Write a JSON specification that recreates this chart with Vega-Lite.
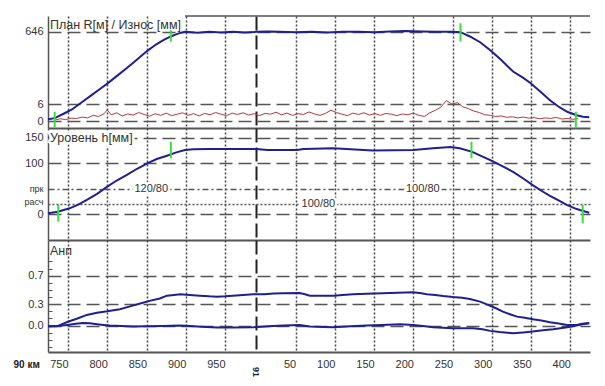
{
  "$schema": "https://vega.github.io/schema/vega-lite/v6.json",
  "padding": {"left": 13, "top": 13, "right": 10, "bottom": 5},
  "spacing": 0,
  "bounds": "flush",
  "background": "white",
  "config": {
    "view": {"stroke": null},
    "axis": {"labelFont": "Liberation Sans", "labelFontSize": 11, "labelColor": "#333", "titleFont": "Liberation Sans", "tickCount": 40},
    "text": {"font": "Liberation Sans"}
  },
  "datasets": {
    "plan": [
      {"p": 724.5, "k": 0.03}, {"p": 733, "k": 0.05}, {"p": 745, "k": 0.13}, {"p": 755, "k": 0.2}, {"p": 768, "k": 0.33},
      {"p": 780, "k": 0.45}, {"p": 792, "k": 0.57}, {"p": 800, "k": 0.65}, {"p": 812, "k": 0.78}, {"p": 825, "k": 0.92},
      {"p": 838, "k": 1.07}, {"p": 851, "k": 1.22}, {"p": 862, "k": 1.33}, {"p": 872, "k": 1.41}, {"p": 881, "k": 1.47},
      {"p": 890, "k": 1.52}, {"p": 899, "k": 1.55}, {"p": 915, "k": 1.535}, {"p": 930, "k": 1.55}, {"p": 945, "k": 1.54},
      {"p": 960, "k": 1.55}, {"p": 975, "k": 1.54}, {"p": 990, "k": 1.55}, {"p": 1005, "k": 1.555}, {"p": 1020, "k": 1.55},
      {"p": 1040, "k": 1.545}, {"p": 1060, "k": 1.55}, {"p": 1080, "k": 1.54}, {"p": 1100, "k": 1.55}, {"p": 1120, "k": 1.55},
      {"p": 1140, "k": 1.545}, {"p": 1160, "k": 1.555}, {"p": 1180, "k": 1.565}, {"p": 1200, "k": 1.555}, {"p": 1220, "k": 1.55},
      {"p": 1240, "k": 1.55}, {"p": 1250, "k": 1.545}, {"p": 1262, "k": 1.47}, {"p": 1275, "k": 1.37}, {"p": 1288, "k": 1.23},
      {"p": 1302, "k": 1.06}, {"p": 1317, "k": 0.86}, {"p": 1330, "k": 0.75}, {"p": 1339, "k": 0.66}, {"p": 1352, "k": 0.51},
      {"p": 1364, "k": 0.36}, {"p": 1376, "k": 0.24}, {"p": 1386, "k": 0.16}, {"p": 1398, "k": 0.1}, {"p": 1406, "k": 0.075},
      {"p": 1414, "k": 0.065}
    ],
    "wear": [
      {"p": 733, "mm": 0.3}, {"p": 740, "mm": 0.8}, {"p": 747, "mm": 0.5}, {"p": 754, "mm": 1.0}, {"p": 761, "mm": 0.9},
      {"p": 768, "mm": 1.4}, {"p": 775, "mm": 1.1}, {"p": 782, "mm": 2.0}, {"p": 789, "mm": 1.6}, {"p": 796, "mm": 2.6},
      {"p": 800, "mm": 3.9}, {"p": 805, "mm": 2.2}, {"p": 812, "mm": 2.9}, {"p": 819, "mm": 1.8}, {"p": 826, "mm": 2.5},
      {"p": 833, "mm": 2.1}, {"p": 840, "mm": 3.0}, {"p": 847, "mm": 2.3}, {"p": 854, "mm": 1.7}, {"p": 861, "mm": 2.6},
      {"p": 868, "mm": 2.0}, {"p": 875, "mm": 2.8}, {"p": 882, "mm": 1.9}, {"p": 889, "mm": 2.4}, {"p": 896, "mm": 2.9},
      {"p": 903, "mm": 2.0}, {"p": 910, "mm": 2.6}, {"p": 917, "mm": 1.8}, {"p": 924, "mm": 2.7}, {"p": 931, "mm": 2.2},
      {"p": 938, "mm": 3.0}, {"p": 945, "mm": 2.4}, {"p": 952, "mm": 1.9}, {"p": 959, "mm": 2.8}, {"p": 966, "mm": 2.3},
      {"p": 973, "mm": 2.9}, {"p": 980, "mm": 2.1}, {"p": 987, "mm": 2.6}, {"p": 994, "mm": 1.9}, {"p": 1001, "mm": 2.7},
      {"p": 1008, "mm": 2.4}, {"p": 1015, "mm": 3.1}, {"p": 1022, "mm": 2.2}, {"p": 1029, "mm": 2.8}, {"p": 1036, "mm": 2.0},
      {"p": 1043, "mm": 2.6}, {"p": 1050, "mm": 2.3}, {"p": 1057, "mm": 3.2}, {"p": 1064, "mm": 2.5}, {"p": 1071, "mm": 2.0},
      {"p": 1078, "mm": 2.7}, {"p": 1085, "mm": 3.8}, {"p": 1092, "mm": 3.0}, {"p": 1099, "mm": 2.4}, {"p": 1106, "mm": 1.9},
      {"p": 1113, "mm": 2.8}, {"p": 1120, "mm": 2.3}, {"p": 1127, "mm": 2.9}, {"p": 1134, "mm": 2.1}, {"p": 1141, "mm": 2.6},
      {"p": 1148, "mm": 2.0}, {"p": 1155, "mm": 2.7}, {"p": 1162, "mm": 2.4}, {"p": 1169, "mm": 1.9}, {"p": 1176, "mm": 2.5},
      {"p": 1183, "mm": 2.2}, {"p": 1190, "mm": 2.8}, {"p": 1197, "mm": 2.0}, {"p": 1204, "mm": 1.6}, {"p": 1211, "mm": 2.9},
      {"p": 1218, "mm": 3.8}, {"p": 1225, "mm": 4.9}, {"p": 1232, "mm": 7.2}, {"p": 1239, "mm": 6.0}, {"p": 1246, "mm": 6.5},
      {"p": 1253, "mm": 5.0}, {"p": 1260, "mm": 4.4}, {"p": 1267, "mm": 3.5}, {"p": 1274, "mm": 3.0}, {"p": 1281, "mm": 2.2},
      {"p": 1288, "mm": 2.0}, {"p": 1295, "mm": 1.6}, {"p": 1302, "mm": 1.8}, {"p": 1309, "mm": 1.3}, {"p": 1316, "mm": 1.5},
      {"p": 1323, "mm": 1.1}, {"p": 1330, "mm": 1.4}, {"p": 1337, "mm": 1.0}, {"p": 1344, "mm": 1.2}, {"p": 1351, "mm": 0.8},
      {"p": 1358, "mm": 1.1}, {"p": 1365, "mm": 0.9}, {"p": 1372, "mm": 1.3}, {"p": 1379, "mm": 0.7}, {"p": 1386, "mm": 0.9},
      {"p": 1393, "mm": 0.6}, {"p": 1400, "mm": 0.8}
    ],
    "level": [
      {"p": 724.5, "h": 2}, {"p": 737, "h": 5}, {"p": 752, "h": 11.7}, {"p": 763, "h": 19}, {"p": 774, "h": 28},
      {"p": 787, "h": 40}, {"p": 800, "h": 54}, {"p": 812, "h": 66}, {"p": 825, "h": 77}, {"p": 838, "h": 89},
      {"p": 851, "h": 99.6}, {"p": 863, "h": 108}, {"p": 876, "h": 114.5}, {"p": 888, "h": 121}, {"p": 899, "h": 125.6},
      {"p": 910, "h": 127}, {"p": 930, "h": 127.5}, {"p": 960, "h": 127.5}, {"p": 990, "h": 127.5}, {"p": 1004, "h": 125.6},
      {"p": 1042, "h": 125.6}, {"p": 1050, "h": 127.5}, {"p": 1088, "h": 129}, {"p": 1138, "h": 124.5}, {"p": 1190, "h": 125.6},
      {"p": 1215, "h": 129}, {"p": 1237, "h": 131.4}, {"p": 1249, "h": 129}, {"p": 1265, "h": 122}, {"p": 1276, "h": 114},
      {"p": 1288, "h": 106}, {"p": 1302, "h": 95}, {"p": 1317, "h": 83}, {"p": 1330, "h": 70}, {"p": 1342, "h": 57},
      {"p": 1353, "h": 46}, {"p": 1364, "h": 36}, {"p": 1375, "h": 27}, {"p": 1386, "h": 18}, {"p": 1395, "h": 12},
      {"p": 1402, "h": 8.4}, {"p": 1414, "h": 3}
    ],
    "anp": [
      {"s": "u", "p": 724.5, "a": -0.01}, {"s": "u", "p": 736, "a": -0.01}, {"s": "u", "p": 749, "a": 0.05}, {"s": "u", "p": 762, "a": 0.1},
      {"s": "u", "p": 774, "a": 0.15}, {"s": "u", "p": 787, "a": 0.18}, {"s": "u", "p": 800, "a": 0.2}, {"s": "u", "p": 816, "a": 0.23},
      {"s": "u", "p": 829, "a": 0.27}, {"s": "u", "p": 842, "a": 0.31}, {"s": "u", "p": 855, "a": 0.35}, {"s": "u", "p": 867, "a": 0.38},
      {"s": "u", "p": 876, "a": 0.42}, {"s": "u", "p": 885, "a": 0.43}, {"s": "u", "p": 893, "a": 0.44}, {"s": "u", "p": 905, "a": 0.43},
      {"s": "u", "p": 918, "a": 0.42}, {"s": "u", "p": 930, "a": 0.41}, {"s": "u", "p": 940, "a": 0.405}, {"s": "u", "p": 950, "a": 0.41},
      {"s": "u", "p": 960, "a": 0.42}, {"s": "u", "p": 973, "a": 0.43}, {"s": "u", "p": 986, "a": 0.44}, {"s": "u", "p": 1000, "a": 0.44},
      {"s": "u", "p": 1012, "a": 0.45}, {"s": "u", "p": 1024, "a": 0.453}, {"s": "u", "p": 1045, "a": 0.456}, {"s": "u", "p": 1052, "a": 0.44},
      {"s": "u", "p": 1058, "a": 0.42}, {"s": "u", "p": 1070, "a": 0.42}, {"s": "u", "p": 1088, "a": 0.42}, {"s": "u", "p": 1100, "a": 0.43},
      {"s": "u", "p": 1113, "a": 0.44}, {"s": "u", "p": 1130, "a": 0.445}, {"s": "u", "p": 1151, "a": 0.453}, {"s": "u", "p": 1170, "a": 0.46},
      {"s": "u", "p": 1190, "a": 0.467}, {"s": "u", "p": 1200, "a": 0.455}, {"s": "u", "p": 1207, "a": 0.44}, {"s": "u", "p": 1218, "a": 0.43},
      {"s": "u", "p": 1228, "a": 0.415}, {"s": "u", "p": 1240, "a": 0.4}, {"s": "u", "p": 1252, "a": 0.39}, {"s": "u", "p": 1262, "a": 0.373},
      {"s": "u", "p": 1275, "a": 0.336}, {"s": "u", "p": 1288, "a": 0.276}, {"s": "u", "p": 1296, "a": 0.24}, {"s": "u", "p": 1304, "a": 0.196},
      {"s": "u", "p": 1313, "a": 0.16}, {"s": "u", "p": 1322, "a": 0.126}, {"s": "u", "p": 1332, "a": 0.11}, {"s": "u", "p": 1342, "a": 0.09},
      {"s": "u", "p": 1353, "a": 0.07}, {"s": "u", "p": 1364, "a": 0.048}, {"s": "u", "p": 1375, "a": 0.03}, {"s": "u", "p": 1386, "a": 0.01},
      {"s": "u", "p": 1398, "a": 0.01}, {"s": "u", "p": 1405, "a": 0.025}, {"s": "u", "p": 1414, "a": 0.035},
      {"s": "l", "p": 724.5, "a": -0.01}, {"s": "l", "p": 737, "a": -0.005}, {"s": "l", "p": 749, "a": 0.01}, {"s": "l", "p": 760, "a": 0.025},
      {"s": "l", "p": 769, "a": 0.035}, {"s": "l", "p": 778, "a": 0.033}, {"s": "l", "p": 787, "a": 0.02}, {"s": "l", "p": 795, "a": 0.01},
      {"s": "l", "p": 803, "a": 0.0}, {"s": "l", "p": 818, "a": -0.005}, {"s": "l", "p": 833, "a": -0.014}, {"s": "l", "p": 850, "a": -0.01},
      {"s": "l", "p": 870, "a": -0.005}, {"s": "l", "p": 893, "a": 0.0}, {"s": "l", "p": 905, "a": -0.005}, {"s": "l", "p": 920, "a": -0.015},
      {"s": "l", "p": 940, "a": -0.028}, {"s": "l", "p": 960, "a": -0.028}, {"s": "l", "p": 986, "a": -0.022}, {"s": "l", "p": 1005, "a": -0.01},
      {"s": "l", "p": 1024, "a": 0.0}, {"s": "l", "p": 1045, "a": 0.01}, {"s": "l", "p": 1058, "a": -0.014}, {"s": "l", "p": 1075, "a": -0.02},
      {"s": "l", "p": 1088, "a": -0.022}, {"s": "l", "p": 1110, "a": -0.01}, {"s": "l", "p": 1131, "a": 0.0}, {"s": "l", "p": 1150, "a": 0.01},
      {"s": "l", "p": 1173, "a": 0.02}, {"s": "l", "p": 1190, "a": 0.01}, {"s": "l", "p": 1205, "a": -0.01}, {"s": "l", "p": 1215, "a": -0.022},
      {"s": "l", "p": 1240, "a": -0.036}, {"s": "l", "p": 1266, "a": -0.036}, {"s": "l", "p": 1278, "a": -0.05}, {"s": "l", "p": 1288, "a": -0.074},
      {"s": "l", "p": 1300, "a": -0.09}, {"s": "l", "p": 1317, "a": -0.106}, {"s": "l", "p": 1330, "a": -0.095}, {"s": "l", "p": 1342, "a": -0.084},
      {"s": "l", "p": 1355, "a": -0.066}, {"s": "l", "p": 1368, "a": -0.05}, {"s": "l", "p": 1386, "a": -0.022}, {"s": "l", "p": 1398, "a": 0.0},
      {"s": "l", "p": 1405, "a": 0.02}, {"s": "l", "p": 1414, "a": 0.034}
    ],
    "g1": [
      {"p": 733, "lo": -0.12, "hi": 0.16}, {"p": 881, "lo": 1.38, "hi": 1.58},
      {"p": 1250, "lo": 1.38, "hi": 1.7}, {"p": 1397, "lo": -0.127, "hi": 0.16}
    ],
    "g2": [
      {"p": 737.6, "lo": -14.5, "hi": 18.2}, {"p": 881, "lo": 109.4, "hi": 141.8},
      {"p": 1264, "lo": 109.4, "hi": 141.8}, {"p": 1405.7, "lo": -17.6, "hi": 18.2}
    ],
    "notes": [
      {"p": 856, "h": 50, "t": "120/80"}, {"p": 1202, "h": 50, "t": "100/80"}, {"p": 1069, "h": 20, "t": "100/80"}
    ]
  },
  "vconcat": [
    {
      "width": 542, "height": 112,
      "resolve": {"scale": {"y": "independent"}, "axis": {"y": "independent"}},
      "layer": [
        {
          "layer": [
            {
              "data": {"name": "wear"},
              "mark": {"type": "line", "color": "#b5393b", "strokeWidth": 1, "clip": true},
              "encoding": {
                "x": {"field": "p", "type": "quantitative", "scale": {"domain": [724.5, 1415], "nice": false, "zero": false},
                  "axis": {"orient": "bottom", "values": [750, 800, 850, 900, 950, 990, 1040, 1090, 1140, 1190, 1240, 1290, 1340, 1390],
                    "tickCount": 40, "labels": false, "ticks": false, "domain": true, "domainColor": "#555", "domainWidth": 2, "title": null, "grid": true,
                    "gridColor": {"condition": {"test": "datum.value === 990", "value": "#222"}, "value": "#444"},
                    "gridDash": {"condition": {"test": "datum.value === 990", "value": [14, 5]}, "value": [2, 2]},
                    "gridWidth": {"condition": {"test": "datum.value === 990", "value": 2}, "value": 1.5}}},
                "y": {"field": "mm", "type": "quantitative", "scale": {"domain": [-2.47, 37.1], "nice": false, "zero": false},
                  "axis": {"values": [0, 6, 31.45], "tickCount": 40, "labelExpr": "datum.value > 20 ? '646' : datum.label", "title": null,
                    "labelOverlap": false, "domain": true, "domainColor": "#555", "domainWidth": 1.5, "ticks": false, "labelPadding": 5,
                    "grid": true, "gridDash": [13, 6], "gridColor": "#555", "gridWidth": 1.5}}
              }
            },
            {
              "data": {"values": [{"p": 899, "mm": 37.1}, {"p": 1415, "mm": 37.1}]},
              "mark": {"type": "line", "color": "#555", "strokeWidth": 1.5},
              "encoding": {"x": {"field": "p", "type": "quantitative"}, "y": {"field": "mm", "type": "quantitative"}}
            },
            {
              "data": {"values": [{"p": 727, "mm": 32.6, "t": "План R[м] / Износ [мм]"}]},
              "mark": {"type": "text", "align": "left", "baseline": "alphabetic", "fontSize": 12.5, "color": "#333"},
              "encoding": {"x": {"field": "p", "type": "quantitative"}, "y": {"field": "mm", "type": "quantitative"}, "text": {"field": "t"}}
            }
          ]
        },
        {
          "layer": [
            {
              "data": {"name": "plan"},
              "mark": {"type": "line", "color": "#1f1f8f", "strokeWidth": 2},
              "encoding": {
                "x": {"field": "p", "type": "quantitative"},
                "y": {"field": "k", "type": "quantitative", "scale": {"domain": [-0.122, 1.826], "nice": false, "zero": false}, "axis": null}
              }
            },
            {
              "data": {"name": "g1"},
              "mark": {"type": "rule", "color": "#3ddc3d", "strokeWidth": 2},
              "encoding": {
                "x": {"field": "p", "type": "quantitative"},
                "y": {"field": "lo", "type": "quantitative"}, "y2": {"field": "hi"}
              }
            }
          ]
        }
      ]
    },
    {
      "width": 542, "height": 112,
      "layer": [
        {
          "data": {"name": "level"},
          "mark": {"type": "line", "color": "#1f1f8f", "strokeWidth": 2},
          "encoding": {
            "x": {"field": "p", "type": "quantitative", "scale": {"domain": [724.5, 1415], "nice": false, "zero": false},
              "axis": {"orient": "bottom", "values": [750, 800, 850, 900, 950, 990, 1040, 1090, 1140, 1190, 1240, 1290, 1340, 1390],
                "tickCount": 40, "labels": false, "ticks": false, "domain": true, "domainColor": "#555", "domainWidth": 2, "title": null, "grid": true,
                "gridColor": {"condition": {"test": "datum.value === 990", "value": "#222"}, "value": "#444"},
                "gridDash": {"condition": {"test": "datum.value === 990", "value": [14, 5]}, "value": [2, 2]},
                "gridWidth": {"condition": {"test": "datum.value === 990", "value": 2}, "value": 1.5}}},
            "y": {"field": "h", "type": "quantitative", "scale": {"domain": [-50.2, 168.6], "nice": false, "zero": false},
              "axis": {"values": [0, 20, 50, 100, 150], "tickCount": 40,
                "labelExpr": "datum.value == 50 ? 'прк' : datum.value == 20 ? 'расч' : datum.label",
                "labelOverlap": false,
                "labelFontSize": {"condition": {"test": "datum.value == 20 || datum.value == 50", "value": 9}, "value": 11},
                "labelBaseline": {"condition": {"test": "datum.value == 20", "value": "alphabetic"}, "value": "middle"},
                "title": null, "domain": true, "domainColor": "#555", "domainWidth": 1.5, "ticks": false, "labelPadding": 5,
                "grid": true, "gridColor": "#555", "gridWidth": 1.5,
                "gridDash": {"condition": [{"test": "datum.value == 50", "value": [6, 3, 2, 3]}, {"test": "datum.value == 20", "value": [2, 2]}], "value": [13, 6]}}}
          }
        },
        {
          "data": {"name": "g2"},
          "mark": {"type": "rule", "color": "#3ddc3d", "strokeWidth": 2},
          "encoding": {"x": {"field": "p", "type": "quantitative"}, "y": {"field": "lo", "type": "quantitative"}, "y2": {"field": "hi"}}
        },
        {
          "data": {"name": "notes"},
          "mark": {"type": "text", "fontSize": 11, "fill": "white", "stroke": "white", "strokeWidth": 5, "baseline": "middle"},
          "encoding": {"x": {"field": "p", "type": "quantitative"}, "y": {"field": "h", "type": "quantitative"}, "text": {"field": "t"}}
        },
        {
          "data": {"name": "notes"},
          "mark": {"type": "text", "fontSize": 11, "color": "#333", "baseline": "middle"},
          "encoding": {"x": {"field": "p", "type": "quantitative"}, "y": {"field": "h", "type": "quantitative"}, "text": {"field": "t"}}
        },
        {
          "data": {"values": [{"p": 727, "h": 142.2, "t": "Уровень h[мм]"}]},
          "mark": {"type": "text", "align": "left", "baseline": "alphabetic", "fontSize": 12.5, "fill": "white", "stroke": "white", "strokeWidth": 5},
          "encoding": {"x": {"field": "p", "type": "quantitative"}, "y": {"field": "h", "type": "quantitative"}, "text": {"field": "t"}}
        },
        {
          "data": {"values": [{"p": 727, "h": 142.2, "t": "Уровень h[мм]"}]},
          "mark": {"type": "text", "align": "left", "baseline": "alphabetic", "fontSize": 12.5, "color": "#333"},
          "encoding": {"x": {"field": "p", "type": "quantitative"}, "y": {"field": "h", "type": "quantitative"}, "text": {"field": "t"}}
        }
      ]
    },
    {
      "width": 542, "height": 112,
      "layer": [
        {
          "data": {"name": "anp"},
          "mark": {"type": "line", "color": "#1f1f8f", "strokeWidth": 2},
          "encoding": {
            "x": {"field": "p", "type": "quantitative", "scale": {"domain": [724.5, 1415], "nice": false, "zero": false},
              "axis": {"orient": "bottom", "values": [750, 800, 850, 900, 950, 990, 1040, 1090, 1140, 1190, 1240, 1290, 1340, 1390],
                "tickCount": 40,
                "labelExpr": "datum.value === 990 ? '' : (datum.value < 990 ? '' + datum.value : '' + (datum.value - 990))",
                "labelOverlap": false, "labelFlush": false, "labelAlign": "right", "labelBaseline": "top", "labelPadding": 6,
                "ticks": false, "domain": true, "domainColor": "#555", "domainWidth": 2,
                "title": "90 км", "titleX": -35, "titleY": 15, "titleAlign": "left", "titleBaseline": "alphabetic",
                "titleFontSize": 10, "titleFontWeight": "bold", "titleColor": "#222",
                "grid": true,
                "gridColor": {"condition": {"test": "datum.value === 990", "value": "#222"}, "value": "#444"},
                "gridDash": {"condition": {"test": "datum.value === 990", "value": [14, 5]}, "value": [2, 2]},
                "gridWidth": {"condition": {"test": "datum.value === 990", "value": 2}, "value": 1.5}}},
            "y": {"field": "a", "type": "quantitative", "scale": {"domain": [-0.37, 1.2], "nice": false, "zero": false},
              "axis": {"values": [-0.3, -0.2, -0.1, 0, 0.1, 0.2, 0.3, 0.4, 0.5, 0.6, 0.7, 0.8, 0.9], "tickCount": 40,
                "labelExpr": "datum.value == 0 || datum.value == 0.3 || datum.value == 0.7 ? format(datum.value, '.1f') : ''",
                "labelOverlap": false,
                "title": null, "domain": true, "domainColor": "#555", "domainWidth": 1.5,
                "ticks": true, "tickSize": -4, "tickColor": "#555", "tickWidth": 1, "labelPadding": 9,
                "grid": true, "gridDash": [13, 6], "gridColor": "#555", "gridWidth": 1.5,
                "gridOpacity": {"condition": {"test": "datum.value == 0 || datum.value == 0.3 || datum.value == 0.7", "value": 1}, "value": 0}}},
            "detail": {"field": "s"}
          }
        },
        {
          "data": {"values": [{"p": 727, "a": 0.996, "t": "Анп"}]},
          "mark": {"type": "text", "align": "left", "baseline": "alphabetic", "fontSize": 12.5, "color": "#333"},
          "encoding": {"x": {"field": "p", "type": "quantitative"}, "y": {"field": "a", "type": "quantitative"}, "text": {"field": "t"}}
        },
        {
          "data": {"values": [{"p": 990, "a": -0.65, "t": "91"}]},
          "mark": {"type": "text", "angle": 90, "align": "center", "baseline": "middle", "fontSize": 9, "fontWeight": "bold", "color": "#222", "clip": false},
          "encoding": {"x": {"field": "p", "type": "quantitative"}, "y": {"field": "a", "type": "quantitative"}, "text": {"field": "t"}}
        }
      ]
    }
  ]
}
